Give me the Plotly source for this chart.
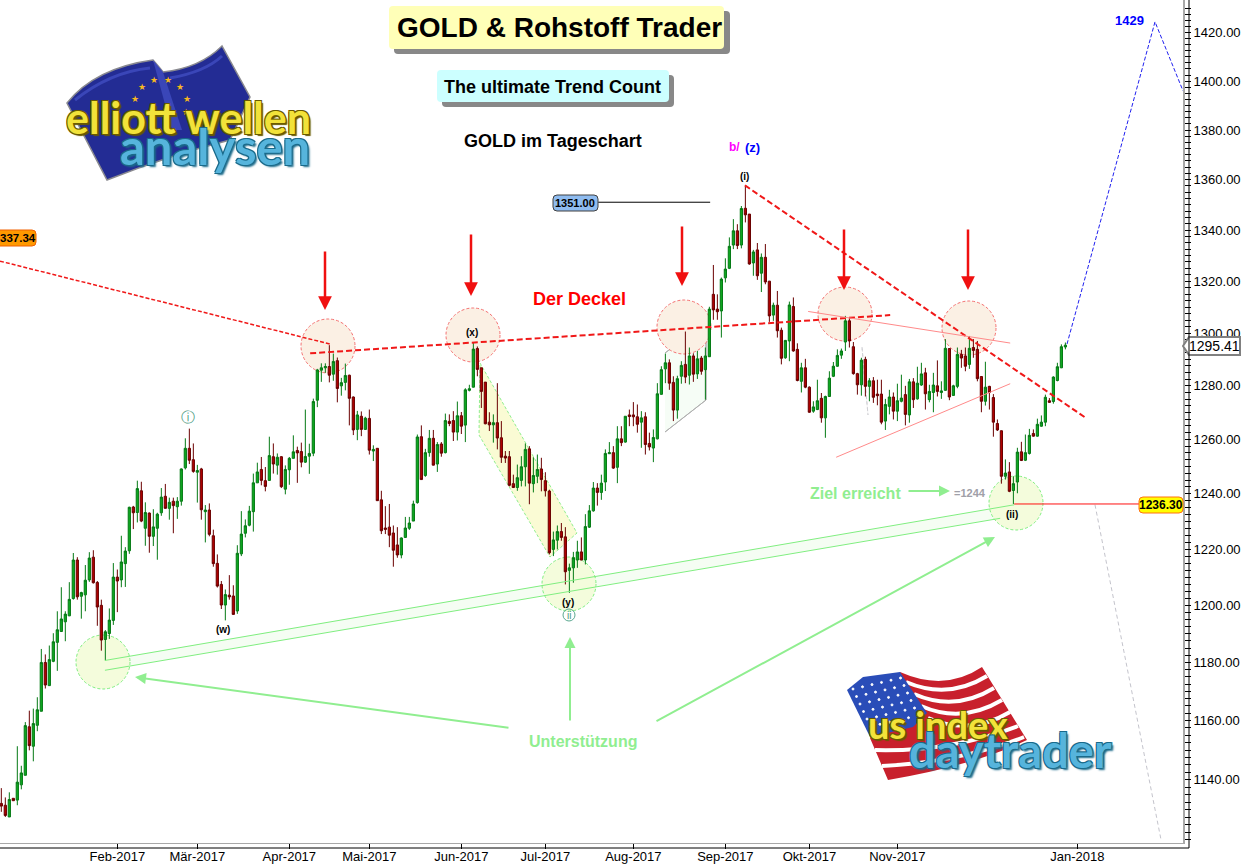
import plotly.graph_objects as go

# daily candles
directions = (
    "RRGRGGGRGG" "GRGGGGGGGR" "GGGRRRGGGR" "GGGRGRGRGG" "GRGRGGGRRG"
    "RGRRRRGRRG" "GGGGGRRGRG" "RGGGRRGGGG" "GGRGRGGRRG" "RGRGRRRRRR"
    "GGGGGRGGRG" "RGRRGRGGGR" "RRRGRRRRRG" "GGRGGRRRGG" "RRGGGRGGGR"
    "GGGRGRGRRR" "GRRGGGGRRG" "GRGRGRGGRR" "GGGGRGRRGR" "GRRGRRGGRR"
    "GRRGGRGGGG" "GGRRRGRGRR" "RGGRGGRGRG" "GRGGRGGRGG" "RRGRRRGRRR"
    "RGRGGRGGRG" "GGRGGGG"
)
highs = [
    1137.2, 1134.1, 1135.8, 1133.8, 1151.3, 1144.7, 1159.5, 1163.4, 1164.1, 1168,
    1184.7, 1182.8, 1185.9, 1190.2, 1197.9, 1206.4, 1197.9, 1208.2, 1218.6, 1217.1,
    1204.8, 1214.3, 1218.9, 1219.6, 1208.6, 1202, 1191.3, 1198.9, 1215, 1212.7,
    1224.8, 1220.7, 1235.3, 1235.6, 1244.8, 1244.4, 1236.9, 1233.2, 1234.4, 1233.1,
    1242.1, 1243.6, 1238.6, 1238.6, 1238.8, 1249.3, 1260.4, 1264, 1258.5, 1250.6,
    1249.5, 1235.9, 1236.5, 1227, 1218.1, 1208.6, 1205.6, 1210.7, 1207.1, 1221.4,
    1233.7, 1230.7, 1235.6, 1247.4, 1251.4, 1253.5, 1249.8, 1261, 1258.5, 1254.8,
    1253.8, 1250.4, 1253.5, 1261.5, 1257.3, 1258.8, 1271.1, 1258.4, 1275.2, 1286.4,
    1288.5, 1288.5, 1295.4, 1292.2, 1290.7, 1283, 1288.4, 1284.2, 1276, 1270.6,
    1270.4, 1268.4, 1271.1, 1257.8, 1256.8, 1241.1, 1235.5, 1236.3, 1228.5, 1227.9,
    1224.2, 1231.6, 1231.6, 1237.5, 1261.8, 1265.2, 1256.5, 1263.5, 1263.5, 1259,
    1259, 1269.6, 1269.3, 1270.5, 1274.1, 1270.2, 1279.1, 1280.4, 1296.4, 1294.9,
    1286.8, 1281.4, 1270.1, 1269.3, 1281, 1266.8, 1255.7, 1255.7, 1247, 1250.7,
    1253.8, 1258.5, 1257.5, 1253.4, 1254.4, 1253.2, 1247.9, 1241.5, 1226.3, 1228.5,
    1229.4, 1227.9, 1214.8, 1219, 1223, 1224.2, 1232.6, 1235.9, 1244.3, 1243.9,
    1247, 1256.3, 1259, 1257.5, 1264.9, 1264.9, 1268.6, 1271.1, 1273.9, 1273,
    1270.5, 1270.1, 1262.5, 1263.7, 1281, 1287.4, 1292.2, 1290, 1283.6, 1283.8,
    1289.3, 1300.6, 1294.5, 1292.3, 1293.2, 1291.3, 1294.5, 1310.1, 1326.3, 1314.9,
    1321.4, 1328.9, 1337.1, 1344.3, 1342.3, 1349.5, 1357.8, 1346.3, 1332.2, 1334.9,
    1330.8, 1334.5, 1320.1, 1311.7, 1316.2, 1302.1, 1297.4, 1312.1, 1313.7, 1296.1,
    1288.7, 1290.2, 1279.8, 1274.2, 1282.3, 1277.3, 1276.3, 1285.5, 1289, 1293.8,
    1294.1, 1306.6, 1305.7, 1296.6, 1284.9, 1290.6, 1291, 1282.9, 1283.3, 1282.3,
    1282.3, 1275.1, 1278.5, 1277.5, 1280.8, 1284.2, 1280, 1282.6, 1282.9, 1287.2,
    1288.7, 1286.8, 1280.4, 1284.9, 1289.6, 1281.7, 1297.7, 1294.2, 1280.4, 1294.5,
    1293.6, 1294.5, 1298.9, 1297.7, 1297, 1283.6, 1289.1, 1280, 1276.9, 1267.4,
    1263.3, 1252.6, 1251.6, 1246.4, 1256.9, 1259.1, 1261.8, 1263.9, 1263.7, 1267.7,
    1268.9, 1276.7, 1275.4, 1283.6, 1288.7, 1295.7, 1296.4,
]
body_tops = [
    1132.1, 1131.5, 1133.4, 1133.8, 1139.2, 1142.3, 1158.3, 1157.9, 1159, 1163.7,
    1180, 1180, 1181, 1187.2, 1191.4, 1195.2, 1196.9, 1202.1, 1216.1, 1216.1,
    1204.5, 1208.9, 1216.8, 1217.1, 1208.1, 1200, 1190.7, 1194.8, 1210, 1210,
    1215.4, 1219.3, 1235.1, 1235.2, 1241.9, 1241.1, 1233.2, 1233, 1228, 1232.6,
    1238.8, 1239.1, 1236.9, 1237.3, 1237.3, 1249.1, 1256.7, 1256.7, 1252.5, 1248.5,
    1249.1, 1234.1, 1234.1, 1224.8, 1214.9, 1207.4, 1203.8, 1203.6, 1203.3, 1218.5,
    1225.4, 1228.4, 1233.7, 1244, 1248, 1248.9, 1244.8, 1254, 1253.6, 1253.4,
    1253.6, 1248.9, 1253, 1255.4, 1255.9, 1255.5, 1253.7, 1254.8, 1274.1, 1286,
    1286.8, 1287.3, 1287.3, 1289.2, 1289.5, 1281.2, 1283.9, 1284, 1275.8, 1269.1,
    1268.6, 1267.9, 1267.8, 1256.3, 1256.7, 1237.8, 1227.6, 1227.9, 1225.8, 1221.5,
    1224, 1227.6, 1229.4, 1236.3, 1260.9, 1261, 1255.1, 1260.4, 1260.4, 1258.1,
    1258.3, 1267, 1266.7, 1267, 1268.8, 1268.8, 1278.5, 1278.9, 1293.9, 1294.1,
    1286.8, 1281.4, 1266.4, 1266.2, 1266.2, 1260.6, 1253.8, 1253.6, 1243.7, 1245.9,
    1249.9, 1256.3, 1256.5, 1246.7, 1248.9, 1249.1, 1244.8, 1241, 1223.3, 1226.3,
    1226.3, 1224.4, 1213.3, 1216.9, 1219, 1219, 1228.1, 1233.8, 1242.1, 1242.1,
    1243.9, 1254.8, 1255.1, 1255.1, 1260.2, 1260.2, 1268.6, 1269.1, 1269.1, 1268.4,
    1268, 1268.4, 1258.5, 1260.7, 1277, 1286.1, 1288.7, 1288.7, 1281.3, 1282.7,
    1287.7, 1288.1, 1291.3, 1291.3, 1290.2, 1290.5, 1291.3, 1309.2, 1314.9, 1309.2,
    1320.8, 1324.7, 1333.6, 1339.7, 1339.7, 1348.5, 1348.6, 1346.3, 1331.4, 1332.2,
    1329.3, 1329.3, 1320, 1310.7, 1310.7, 1301.1, 1297.2, 1310.8, 1310.2, 1293.8,
    1286.8, 1286.8, 1279.5, 1272.1, 1274.4, 1275.3, 1276, 1282.9, 1287.4, 1291.5,
    1293.2, 1304.7, 1304.7, 1294.8, 1284.6, 1289.7, 1290, 1281.9, 1281.9, 1276.9,
    1276.9, 1273, 1275.8, 1275.8, 1274.4, 1275.4, 1276.7, 1281.5, 1281.5, 1281,
    1284.5, 1284.9, 1277.9, 1280.3, 1280, 1278.1, 1294.2, 1294.1, 1280, 1291.9,
    1291.9, 1291.3, 1294.2, 1294.5, 1293.8, 1283.5, 1279.5, 1279.8, 1275.6, 1265.9,
    1263.2, 1247.6, 1248, 1243.7, 1255.3, 1255.4, 1255.1, 1261.5, 1262.2, 1265.6,
    1266.4, 1275.7, 1274.4, 1283.3, 1287.2, 1294.8, 1295.4,
]
body_bottoms = [
    1131.2, 1128.1, 1127.6, 1133, 1133.2, 1138.3, 1141.5, 1151.5, 1151.3, 1158.4,
    1163.2, 1172.2, 1172, 1180.4, 1187, 1190.8, 1194.2, 1196.3, 1202.4, 1203,
    1203.2, 1203.7, 1209, 1208, 1199.4, 1187.8, 1188, 1190.1, 1194.7, 1208.6,
    1209, 1214.8, 1219.4, 1233.1, 1233.2, 1230.1, 1227.5, 1224.6, 1224.6, 1227.5,
    1233.1, 1234.7, 1234.7, 1235.7, 1235.3, 1237.3, 1249.5, 1252.3, 1248.2, 1247.9,
    1234.2, 1233.5, 1225.3, 1214.8, 1206.8, 1200.1, 1200.1, 1203, 1196.8, 1198,
    1218.3, 1225.7, 1228.6, 1233.5, 1244, 1244.9, 1242.7, 1244.9, 1250.9, 1250.5,
    1242.6, 1241.7, 1248.8, 1253, 1255, 1251.6, 1251.6, 1253.8, 1254.9, 1274.6,
    1285.9, 1286.8, 1284, 1284.4, 1279, 1280, 1281.3, 1275.3, 1263.5, 1263.7,
    1263.7, 1263.7, 1256, 1255.7, 1237.5, 1226.6, 1227.1, 1225, 1219.6, 1217.9,
    1217.9, 1224.2, 1227.5, 1230.1, 1236.8, 1245.2, 1246.7, 1255.1, 1250.5, 1250.9,
    1254.9, 1255.1, 1265.9, 1262.7, 1262.7, 1264.9, 1265.3, 1278.3, 1279.5, 1286.2,
    1277.9, 1265.8, 1265.4, 1265.4, 1260.5, 1253.4, 1253.1, 1243.1, 1242.3, 1242.3,
    1244.9, 1249.9, 1243.9, 1243.7, 1246.4, 1245.2, 1241.1, 1218.7, 1219.9, 1223.2,
    1224.2, 1211.9, 1212.4, 1213.3, 1216.1, 1216.1, 1216.1, 1227.9, 1233.8, 1240.5,
    1240.5, 1244.3, 1254.7, 1249.4, 1249.7, 1258.8, 1259, 1268.5, 1268.4, 1265.6,
    1266.4, 1258.1, 1257.2, 1256.8, 1260.2, 1276.8, 1286.4, 1281, 1270.9, 1270.9,
    1283.6, 1283.3, 1284, 1284.4, 1284.5, 1285.5, 1286.1, 1291, 1308.9, 1308.2,
    1308.5, 1321.3, 1325, 1334.1, 1333.9, 1334.1, 1346, 1326.7, 1327.1, 1322.1,
    1323.1, 1319.7, 1306.6, 1306.9, 1300.9, 1290.4, 1290.6, 1297, 1293.2, 1282,
    1281.7, 1279.5, 1270.1, 1270.5, 1271.1, 1268, 1268, 1276, 1283.6, 1287.4,
    1291.6, 1296.6, 1297, 1284.6, 1280.4, 1280.4, 1279.8, 1279.8, 1275.7, 1276.3,
    1266.4, 1266.8, 1272.3, 1270.5, 1270.5, 1274.2, 1269.3, 1269.1, 1274.8, 1275.1,
    1280.3, 1277, 1274.8, 1277.5, 1277.9, 1277.5, 1278.3, 1275.8, 1276.4, 1279.8,
    1290.5, 1287.4, 1288.1, 1293.4, 1282.7, 1274.2, 1274.2, 1277.5, 1266.4, 1263.5,
    1246.4, 1246.4, 1240.9, 1241.2, 1244.3, 1252.2, 1252.3, 1254.8, 1261.2, 1261.2,
    1264.9, 1266.4, 1273.8, 1274.1, 1282, 1286.8, 1294.7,
]
lows = [
    1129.3, 1127.6, 1127.6, 1133, 1131.5, 1136.8, 1141.5, 1149.9, 1146.2, 1156.4,
    1163.2, 1171, 1172, 1180.1, 1177.1, 1190.8, 1187.4, 1196.2, 1202, 1202,
    1195.3, 1197.9, 1208.3, 1207.7, 1192.8, 1184.1, 1180.7, 1188.2, 1193.1, 1197.6,
    1206.4, 1206.5, 1218.3, 1227.2, 1229.6, 1229.7, 1221.2, 1218.7, 1221.1, 1216.2,
    1232, 1234.7, 1230.6, 1225.7, 1230.9, 1235.7, 1248.9, 1250.9, 1247.7, 1236.8,
    1230.6, 1222.4, 1224.6, 1213.7, 1206.3, 1198.7, 1194.7, 1202, 1196.8, 1197,
    1217.5, 1224.2, 1228.2, 1226.3, 1244, 1243.1, 1240.9, 1244.9, 1247.4, 1247,
    1242.1, 1239.8, 1243.3, 1253, 1244, 1249.7, 1251.3, 1247.3, 1253.8, 1272,
    1281.5, 1284.9, 1281.3, 1281.9, 1273.8, 1276.3, 1278.3, 1265.2, 1261.6, 1259.7,
    1261.2, 1263.5, 1254.4, 1252, 1237.5, 1225.4, 1225.4, 1220.7, 1213.7, 1216.9,
    1216.7, 1224, 1226.9, 1230.1, 1236.4, 1245.2, 1246.2, 1253.6, 1250.4, 1248,
    1253.6, 1254.8, 1264.9, 1259.4, 1259.6, 1262, 1259, 1277.9, 1279.4, 1283.6,
    1271.7, 1265.6, 1263.1, 1258.8, 1256.3, 1251.3, 1251.3, 1242.7, 1242.1, 1241.1,
    1242.7, 1242.7, 1236.2, 1240.5, 1243.9, 1240.9, 1239, 1218.1, 1217.5, 1219.9,
    1223, 1207.4, 1204.4, 1208, 1213.3, 1216, 1214.5, 1227.6, 1233.5, 1235.7,
    1237.8, 1241, 1254.7, 1249.1, 1243.9, 1257.5, 1258.8, 1264.9, 1264.9, 1262.5,
    1256.9, 1254.4, 1255.9, 1251.6, 1260, 1276.7, 1281, 1278.5, 1266.8, 1267.7,
    1280.8, 1281, 1280.5, 1281.5, 1282.6, 1284.2, 1274.8, 1290.9, 1305.1, 1305.1,
    1298.3, 1319.5, 1324.7, 1332.5, 1332.5, 1332.8, 1343, 1326.4, 1322.1, 1320.5,
    1315.8, 1318.8, 1304.3, 1304.7, 1298.3, 1288.1, 1290.2, 1289.3, 1292.9, 1281.7,
    1277.5, 1279.1, 1269.9, 1269.9, 1270.9, 1266.2, 1260.6, 1275.8, 1283.3, 1287.2,
    1290.2, 1293.2, 1294.5, 1284.2, 1276.7, 1276.3, 1276, 1274.2, 1273.6, 1272.7,
    1265.6, 1263.5, 1269.3, 1267.4, 1266.8, 1273.8, 1265.2, 1266.2, 1271.7, 1274.8,
    1280, 1271.1, 1273.8, 1270.1, 1276, 1275.1, 1278.1, 1274.6, 1276.3, 1279.1,
    1286.8, 1285.5, 1286.4, 1290.6, 1281.7, 1270.1, 1272.6, 1271.1, 1261, 1263.1,
    1243.7, 1245.2, 1240.6, 1236.3, 1240.2, 1252, 1252, 1254.4, 1261, 1261,
    1264.7, 1264.9, 1273.6, 1273.3, 1281.7, 1286.7, 1293.8,
]

month_bars = [29, 49, 72, 92, 115, 136, 158, 181, 202, 224, 269]
month_labels = ["Feb-2017", "Mär-2017", "Apr-2017", "Mai-2017", "Jun-2017", "Jul-2017",
                "Aug-2017", "Sep-2017", "Okt-2017", "Nov-2017", "Jan-2018"]
price_ticks = list(range(1140, 1421, 20))

# drawn lines: bar number and price at each end
lid_x, lid_y = [77.2, 222.2], [1292.3, 1306.9]
old_lid_x, old_lid_y = [-0.33, 82.2], [1327.8, 1295.8]
downtrend_x, downtrend_y = [185.9, 270.9], [1357.7, 1268.2]
wedge_top_x, wedge_top_y = [201.7, 252.2], [1308.3, 1296.2]
wedge_low_x, wedge_low_y = [208.7, 252.2], [1253.4, 1280.8]
forecast_x, forecast_y = [266.4, 288.4, 295.4], [1295.8, 1424.6, 1396]
fall_x, fall_y = [273.4, 289.9], [1236, 1120.1]
support_a_x, support_a_y = [25.9, 253.2], [1180.7, 1236]
support_b_x, support_b_y = [25.9, 249.7], [1177.3, 1231.1]
low_line_x, low_line_y = [253.2, 284.4], [1236.3, 1236.3]
high_line_x, high_line_y = [149.2, 177.2], [1351, 1351]

W, H = 1183, 843


def X(px):
    return px / W


def Y(py):
    return 1 - py / H


def path(points):
    return "M " + " L ".join(f"{X(a)},{Y(b)}" for a, b in points) + " Z"


def curve(a, c, b):
    return f"M {X(a[0])},{Y(a[1])} Q {X(c[0])},{Y(c[1])} {X(b[0])},{Y(b[1])}"


def rounded(x0, y0, x1, y1, r=4):
    return (f"M {X(x0 + r)},{Y(y0)} L {X(x1 - r)},{Y(y0)} Q {X(x1)},{Y(y0)} {X(x1)},{Y(y0 + r)} "
            f"L {X(x1)},{Y(y1 - r)} Q {X(x1)},{Y(y1)} {X(x1 - r)},{Y(y1)} "
            f"L {X(x0 + r)},{Y(y1)} Q {X(x0)},{Y(y1)} {X(x0)},{Y(y1 - r)} "
            f"L {X(x0)},{Y(y0 + r)} Q {X(x0)},{Y(y0)} {X(x0 + r)},{Y(y0)} Z")


fig = go.Figure()

opens = [b if d == "G" else t for d, t, b in zip(directions, body_tops, body_bottoms)]
closes = [t if d == "G" else b for d, t, b in zip(directions, body_tops, body_bottoms)]

fig.add_trace(go.Candlestick(
    x=list(range(len(highs))), open=opens, high=highs, low=lows, close=closes,
    increasing=dict(line=dict(color="#057a15", width=1), fillcolor="#0ea820"),
    decreasing=dict(line=dict(color="#6a0000", width=1), fillcolor="#b00000"),
    whiskerwidth=0, hoverinfo="skip", showlegend=False,
))


def add_line(xs, ys, color, width=1, dash="solid"):
    fig.add_trace(go.Scatter(x=xs, y=ys, mode="lines", hoverinfo="skip", showlegend=False,
                             line=dict(color=color, width=width, dash=dash)))


add_line(old_lid_x, old_lid_y, "#f01818", 1.5, "4px,2px")
add_line(lid_x, lid_y, "#f01818", 2, "6px,3px")
add_line(downtrend_x, downtrend_y, "#f01818", 2, "6px,3px")
add_line(wedge_top_x, wedge_top_y, "#ff8a8a", 1)
add_line(wedge_low_x, wedge_low_y, "#ff8a8a", 1)
add_line(forecast_x, forecast_y, "#2020f0", 1, "4px,2px")
add_line(fall_x, fall_y, "#c4c4cc", 1, "4px,3px")
add_line(support_a_x, support_a_y, "#80ee80", 1)
add_line(support_b_x, support_b_y, "#80ee80", 1)
add_line(low_line_x, low_line_y, "#ff1010", 1)
add_line(high_line_x, high_line_y, "#000000", 1)

shapes = []


def add_circle(cx, cy, fill, edge, r=27, layer="below", dash="3px,2px"):
    shapes.append(dict(type="circle", xref="paper", yref="paper", layer=layer,
                       x0=X(cx - r), x1=X(cx + r), y0=Y(cy + r), y1=Y(cy - r),
                       fillcolor=fill, line=dict(color=edge, width=1, dash=dash)))


def add_path(d, fill=None, line_color=None, width=1, layer="below", dash="solid"):
    shapes.append(dict(type="path", xref="paper", yref="paper", layer=layer, path=d,
                       fillcolor=fill if fill else "rgba(0,0,0,0)",
                       line=dict(color=line_color if line_color else "rgba(0,0,0,0)",
                                 width=width, dash=dash)))


# pale bands behind the candles
add_path(path([(105, 660), (1014, 505), (1000, 518), (105, 670)]), "#f5fdf3")
add_path(path([(480, 363), (577, 533), (550, 557), (479, 435)]), "#fafbd4", "#90ee90", 1, dash="3px,2px")
add_path(path([(665, 353), (706, 322), (706, 400), (665, 432)]), "#f6fdf6")
add_path(path([(665, 353), (706, 322)]), None, "#b0b0b0")
add_path(path([(665, 432), (706, 400)]), None, "#b0b0b0")
add_path(path([(706, 322), (706, 400)]), None, "#b0b0b0")
add_path(path([(862, 347), (868, 415)]), None, "#d0d0d4", 1, dash="3px,3px")

for cx, cy in [(328, 346), (473, 335), (684, 327), (845, 314), (969, 328)]:
    add_circle(cx, cy, "#fbf0e4", "#f47070")
for cx, cy in [(103, 662), (569, 584), (1016, 503)]:
    add_circle(cx, cy, "#f4fcdc", "#80ee80")

# title boxes
add_path(rounded(394, 11, 730, 54), "#888888", layer="above")
add_path(rounded(389, 6, 724, 49), "#ffffb8", layer="above")
add_path(rounded(442, 75, 674, 107), "#888888", layer="above")
add_path(rounded(437, 70, 669, 102), "#ccffff", layer="above")

# value tags
add_path(rounded(-6, 230, 36, 246), "#ff9900", "#f06000", layer="above")
add_path(rounded(553, 195, 598, 211), "#8fbcf0", "#404040", layer="above")
add_path(rounded(1139, 497, 1183, 513), "#ffff00", "#ff7010", layer="above")
add_path(path([(1183, 346), (1189, 337), (1240, 337), (1240, 355), (1189, 355)]), "#ffffff", "#808080", 2, "above")

# black outer axis lines
shapes.append(dict(type="line", xref="paper", yref="paper", x0=X(1189), x1=X(1189), y0=Y(0), y1=Y(848),
                   line=dict(color="#000000", width=1)))
shapes.append(dict(type="line", xref="paper", yref="paper", x0=X(0), x1=X(1189), y0=Y(848), y1=Y(848),
                   line=dict(color="#000000", width=1)))

# EU logo flag
eu_flag = (f"M {X(67)},{Y(103)} Q {X(95)},{Y(68)} {X(153)},{Y(60)} Q {X(160)},{Y(68)} {X(163)},{Y(72)} "
           f"Q {X(200)},{Y(68)} {X(222)},{Y(46)} L {X(250)},{Y(97)} L {X(230)},{Y(140)} "
           f"Q {X(170)},{Y(155)} {X(107)},{Y(180)} Z")
add_path(eu_flag, "#232c94", "#8a8a90", 1.5, "above")
add_path(path([(153, 60), (163, 72), (182, 130), (172, 130)]), "#3a46b8", None, 1, "above")
add_path(curve((75, 100), (110, 72), (150, 68)), None, "#3a46b8", 3, "above")
add_path(curve((170, 78), (205, 72), (222, 56)), None, "#3a46b8", 3, "above")

# US logo flag
us_flag = (f"M {X(900)},{Y(672)} Q {X(945)},{Y(692)} {X(982)},{Y(667)} L {X(1027)},{Y(740)} "
           f"Q {X(975)},{Y(765)} {X(888)},{Y(780)} L {X(870)},{Y(738)} Z")
add_path(us_flag, "#c8202c", None, 1, "above")
for a, c, b in [((906, 682), (948, 700), (987, 676)), ((914, 694), (955, 712), (994, 688)),
                ((921, 706), (962, 724), (1002, 700)), ((928, 718), (970, 736), (1010, 712)),
                ((875, 750), (950, 752), (1018, 726)), ((882, 766), (960, 762), (1024, 737))]:
    add_path(curve(a, c, b), None, "#ffffff", 4, "above")
add_path(path([(847, 690), (863, 677), (900, 672), (927, 713), (913, 727), (870, 737)]), "#2a4db8", None, 1, "above")
for row in range(6):
    for col in range(6):
        dot_x = 853 + col * 9.5 + row * 3.5
        dot_y = 689 - col * 2.2 + row * 7.5
        if dot_x < 919 - (row < 2) * 14:
            add_circle(dot_x, dot_y, "#ffffff", "#ffffff", r=1, layer="above", dash="solid")

# small circle round the second wave mark
add_circle(569, 615, "rgba(0,0,0,0)", "#5aa890", r=6, layer="above", dash="solid")

notes = []


def note(text, x, y, size, color="#000000", bold=True, family="Liberation Sans", **extra):
    notes.append(dict(text=f"<b>{text}</b>" if bold else text, x=X(x), y=Y(y), xref="paper", yref="paper",
                      xanchor="center", yanchor="middle", showarrow=False,
                      font=dict(size=size, color=color, family=family, **extra)))


def arrow(x0, y0, x1, y1, color, width):
    notes.append(dict(text="", x=X(x1), y=Y(y1), xref="paper", yref="paper", ax=x0 - x1, ay=y0 - y1,
                      axref="pixel", ayref="pixel", showarrow=True, arrowhead=2, arrowsize=1.1,
                      arrowwidth=width, arrowcolor=color, standoff=0))


note("GOLD &amp; Rohstoff Trader", 559, 27, 28)
note("The ultimate Trend Count", 552, 87, 18)
note("GOLD im Tageschart", 553, 141, 18)
note("b/", 734, 147, 12, "#ff00ff")
note("(z)", 752, 147, 13, "#0000ff")
note("(i)", 744, 176, 10)
note("1429", 1129, 20, 13, "#0000ff")
note("Der Deckel", 579, 299, 18, "#ff0000")
note("Unterstützung", 583, 741, 16, "#90ee90")
note("Ziel erreicht", 855, 493, 16, "#90ee90")
note("=1244", 970, 493, 11, "#a0a0a8")
note("(w)", 223, 629, 10)
note("(x)", 472, 333, 10)
note("(y)", 568, 602, 10)
note("(ii)", 1012, 514, 10)
note("ⓘ", 188, 417, 14, "#4a9a80", bold=False, family="DejaVu Sans")
note("ii", 569, 615, 10, "#4a9a80", bold=False)
note("337.34", 18, 238, 11.5)
note("1351.00", 575, 203, 11)
note("1236.30", 1161, 505, 12)
note("1295.41", 1214, 346, 14, bold=False)

for ax_x, top, bottom in [(325, 250, 310), (471, 233, 296), (682, 225, 286), (844, 228, 290), (968, 228, 290)]:
    arrow(ax_x, top, ax_x, bottom, "#f01010", 2.5)
arrow(510, 728, 135, 677, "#90ee90", 2)
arrow(570, 722, 570, 637, "#90ee90", 2)
arrow(655, 722, 995, 537, "#90ee90", 2)
arrow(907, 491, 950, 491, "#90ee90", 2)

# logo texts and stars
for sx, sy in [(154, 80), (168, 80), (180, 87), (187, 99), (142, 87), (135, 99), (186, 112)]:
    note("★", sx, sy, 9, "#f5b820", bold=False, family="DejaVu Sans")
note("elliott wellen", 188, 117, 43, "#f2e23a", family="Lato",
     shadow="-1px -1px 0 #6a5a00, 1px -1px 0 #6a5a00, -1px 1px 0 #6a5a00, 2px 2px 1px #6a5a00")
note("analysen", 215, 146, 49, "#56b4dc", family="Lato",
     shadow="-1px -1px 0 #1a6a8a, 1px -1px 0 #1a6a8a, -1px 1px 0 #1a6a8a, 2px 2px 2px #1a6a8a")
note("us index", 938, 724, 38, "#f2e23a", family="Lato",
     shadow="-1px -1px 0 #6a5a00, 1px -1px 0 #6a5a00, -1px 1px 0 #6a5a00, 2px 2px 1px #6a5a00")
note("daytrader", 1010, 750, 47, "#56b4dc", family="Lato",
     shadow="-1px -1px 0 #1a6a8a, 1px -1px 0 #1a6a8a, -1px 1px 0 #1a6a8a, 2px 2px 2px #1a6a8a")

minor_ticks = [1120 + 2.5 * i for i in range(125)]

fig.update_layout(
    width=1241, height=865, margin=dict(l=0, r=1241 - W, t=0, b=865 - H),
    template="none", paper_bgcolor="white", plot_bgcolor="white", showlegend=False,
    shapes=shapes, annotations=notes, boxgap=0.2,
    xaxis=dict(range=[-0.33, 295.4], rangeslider=dict(visible=False), showgrid=False, zeroline=False,
               tickmode="array", tickvals=month_bars, ticktext=month_labels, ticks="outside", ticklen=5,
               tickcolor="#000000", showline=True, linecolor="#a8a8a8", linewidth=1, ticklabelstandoff=-4,
               tickfont=dict(family="Liberation Sans", size=13, color="#000000")),
    yaxis=dict(type="log", side="right", range=[3.04883, 3.15648], showgrid=False, zeroline=False,
               tickmode="array", tickvals=price_ticks, ticktext=[f"{p}.00" for p in price_ticks],
               ticks="outside", ticklen=6, tickcolor="#000000", showline=True, linecolor="#a8a8a8", linewidth=2,
               tickfont=dict(family="Liberation Sans", size=13, color="#000000"),
               minor=dict(tickmode="array", tickvals=minor_ticks, ticks="outside", ticklen=6, tickcolor="#000000")),
)

fig.write_html("out.html", config=dict(displayModeBar=False),
               post_script="document.body.style.margin='0';document.body.style.overflow='hidden';")
